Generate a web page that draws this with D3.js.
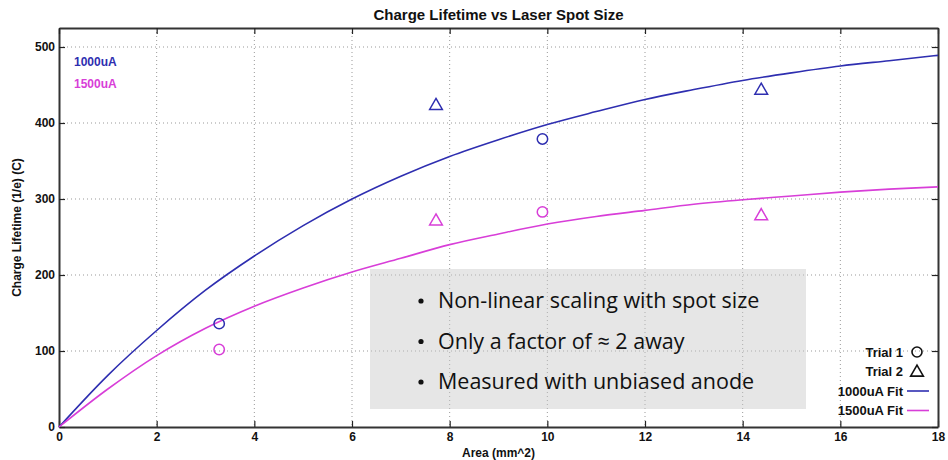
<!DOCTYPE html>
<html>
<head>
<meta charset="utf-8">
<script src="https://cdn.jsdelivr.net/npm/d3@7"></script>
<style>
body { margin: 0; background: #fff; }
svg { font-family: "Liberation Sans", Arial, sans-serif; }
.axis text { font-size: 12px; font-weight: bold; fill: #111; }
.grid line { stroke: #999; stroke-dasharray: 1,3; }
</style>
</head>
<body>
<script>
// fitted curves, one value per unit of area
var fitX = [0,1,2,3,4,5,6,7,8,9,10,11,12,13,14,15,16,17,18];
var fit1000 = [0,68,127,180,225,265,300,330,356,378,398,415,431,444,456,466,475,482,489];
var fit1500 = [0,50,94,130,159,183,204,222,240,254,267,277,285,293,299,304,309,313,316];

// measured points
var t1_1000 = [[3.28,136],[9.9,379]];
var t2_1000 = [[7.72,424],[14.38,444]];
var t1_1500 = [[3.28,102],[9.9,283]];
var t2_1500 = [[7.72,272],[14.38,279]];

var xTicks = [0,2,4,6,8,10,12,14,16,18];
var yTicks = [0,100,200,300,400,500];
var notes = ["Non-linear scaling with spot size", "Only a factor of \u2248 2 away", "Measured with unbiased anode"];

var blue = "#2e2eb0", pink = "#d83ed8";
var width = 948, height = 460;
var margin = {left:59, right:10, top:28, bottom:33};
var w = width - margin.left - margin.right, h = height - margin.top - margin.bottom;

var svg = d3.select("body").append("svg").attr("width",width).attr("height",height);

var x = d3.scaleLinear().domain([0,18]).range([0,w]);
var y = d3.scaleLinear().domain([0,525]).range([h,0]);

var g = svg.append("g").attr("transform","translate("+margin.left+","+margin.top+")");

// grid
g.append("g").attr("class","grid").selectAll("line").data(xTicks.slice(1,-1)).join("line")
  .attr("x1",d=>x(d)).attr("x2",d=>x(d)).attr("y1",0).attr("y2",h);
g.append("g").attr("class","grid").selectAll("line").data(yTicks.slice(1)).join("line")
  .attr("x1",0).attr("x2",w).attr("y1",d=>y(d)).attr("y2",d=>y(d));

// axes, ticks point inward, mirrored on top/right
g.append("g").attr("class","axis").attr("transform","translate(0,"+h+")")
  .call(d3.axisBottom(x).tickValues(xTicks).tickSizeInner(-6).tickSizeOuter(0).tickPadding(5));
g.append("g").attr("class","axis")
  .call(d3.axisLeft(y).tickValues(yTicks).tickSizeInner(-6).tickSizeOuter(0).tickPadding(4));
g.append("g").attr("class","axis").call(d3.axisTop(x).tickValues(xTicks).tickSizeInner(-6).tickSizeOuter(0).tickFormat(""));
g.append("g").attr("class","axis").attr("transform","translate("+w+",0)")
  .call(d3.axisRight(y).tickValues(yTicks).tickSizeInner(-6).tickSizeOuter(0).tickFormat(""));
g.selectAll(".axis path").attr("stroke","#333").attr("stroke-width",2);
g.selectAll(".axis line").attr("stroke","#222").attr("stroke-width",1.2);

// fits
var line = d3.line().x(d=>x(d[0])).y(d=>y(d[1])).curve(d3.curveMonotoneX);
g.append("path").attr("d",line(fitX.map((v,i)=>[v,fit1000[i]])))
  .attr("fill","none").attr("stroke",blue).attr("stroke-width",1.6);
g.append("path").attr("d",line(fitX.map((v,i)=>[v,fit1500[i]])))
  .attr("fill","none").attr("stroke",pink).attr("stroke-width",1.6);

// markers
var tri = d3.symbol().type(d3.symbolTriangle).size(70);
function circles(data,col){
  g.selectAll(null).data(data).join("circle")
    .attr("cx",d=>x(d[0])).attr("cy",d=>y(d[1])).attr("r",5.2)
    .attr("fill","none").attr("stroke",col).attr("stroke-width",1.5);
}
function tris(data,col){
  g.selectAll(null).data(data).join("path").attr("d",tri)
    .attr("transform",d=>"translate("+x(d[0])+","+(y(d[1])+1)+")")
    .attr("fill","none").attr("stroke",col).attr("stroke-width",1.5);
}
circles(t1_1000,blue); tris(t2_1000,blue);
circles(t1_1500,pink); tris(t2_1500,pink);

// top-left labels
g.append("text").attr("x",15).attr("y",38).attr("fill",blue)
  .style("font-size","12px").style("font-weight","bold").text("1000uA");
g.append("text").attr("x",15).attr("y",60).attr("fill",pink)
  .style("font-size","12px").style("font-weight","bold").text("1500uA");

// legend
var leg = g.append("g").attr("transform","translate("+(w-35)+",0)");
var legItems = [{t:"Trial 1",k:"c"},{t:"Trial 2",k:"t"},{t:"1000uA Fit",k:"l",c:blue},{t:"1500uA Fit",k:"l",c:pink}];
legItems.forEach(function(d,i){
  var yy = 324 + i*19.5;
  leg.append("text").attr("x",0).attr("y",yy+4.5).attr("text-anchor","end")
    .style("font-size","13px").style("font-weight","bold").attr("fill","#111").text(d.t);
  if (d.k=="c") leg.append("circle").attr("cx",14).attr("cy",yy).attr("r",5)
    .attr("fill","none").attr("stroke","#111").attr("stroke-width",1.6);
  if (d.k=="t") leg.append("path").attr("d",tri).attr("transform","translate(14,"+(yy+1)+")")
    .attr("fill","none").attr("stroke","#111").attr("stroke-width",1.6);
  if (d.k=="l") leg.append("line").attr("x1",4).attr("x2",26).attr("y1",yy).attr("y2",yy)
    .attr("stroke",d.c).attr("stroke-width",1.6);
});

// note box
var box = svg.append("g");
box.append("rect").attr("x",370).attr("y",269).attr("width",436).attr("height",140)
  .attr("fill","#c8c8c8").attr("fill-opacity",0.45);
notes.forEach(function(t,i){
  var yy = 308 + i*40.5;
  box.append("circle").attr("cx",421).attr("cy",yy-7).attr("r",2.6).attr("fill","#111");
  box.append("text").attr("x",438).attr("y",yy).attr("fill","#111")
    .style("font-family","'Open Sans', sans-serif").style("font-size","21.5px").text(t);
});

// titles
svg.append("text").attr("x",margin.left+w/2).attr("y",20).attr("text-anchor","middle")
  .style("font-size","15px").style("font-weight","bold").attr("fill","#111")
  .text("Charge Lifetime vs Laser Spot Size");
svg.append("text").attr("x",margin.left+w/2).attr("y",457).attr("text-anchor","middle")
  .style("font-size","12px").style("font-weight","bold").attr("fill","#111").text("Area (mm^2)");
svg.append("text").attr("transform","translate(21,"+(margin.top+h/2)+") rotate(-90)")
  .attr("text-anchor","middle").style("font-size","12px").style("font-weight","bold")
  .attr("fill","#111").text("Charge Lifetime (1/e) (C)");
</script>
</body>
</html>
